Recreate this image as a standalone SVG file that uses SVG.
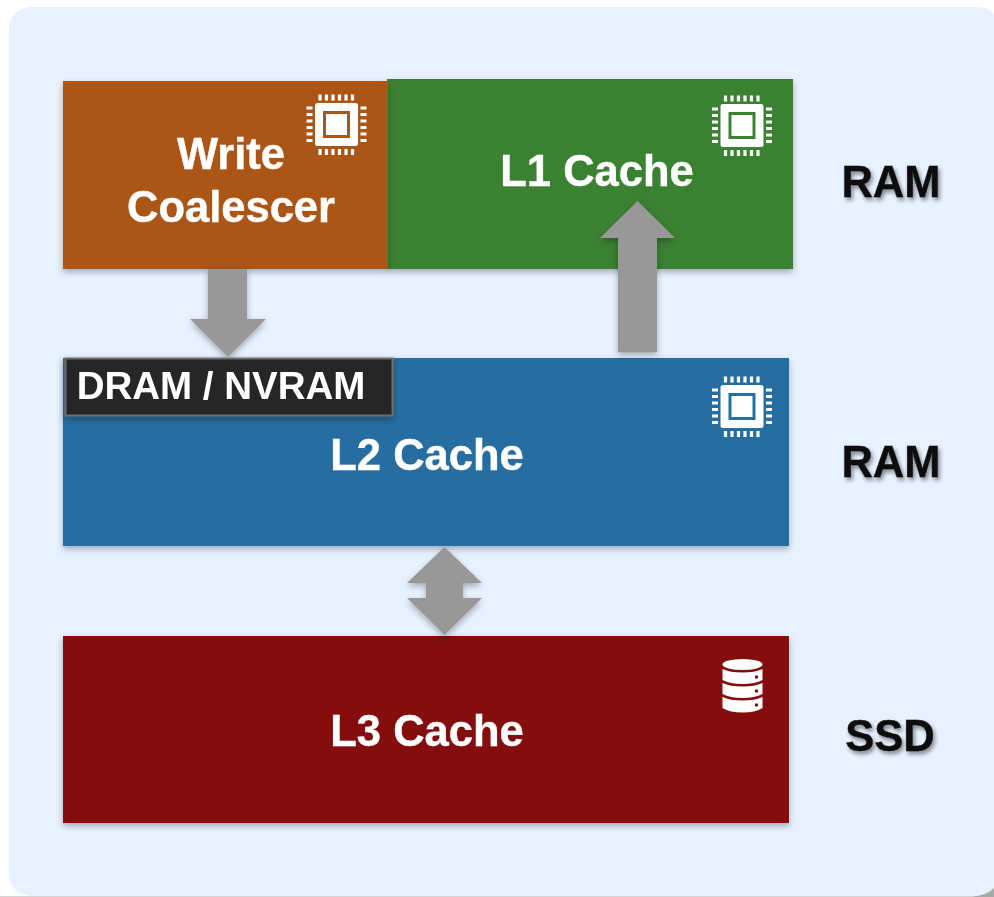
<svg xmlns="http://www.w3.org/2000/svg" width="994" height="897" viewBox="0 0 994 897">
<style>
text{font-family:"Liberation Sans",Arial,sans-serif;font-weight:700;text-anchor:middle}
.w{fill:#fff;stroke:#fff;stroke-width:.4px;font-size:43.500px;filter:url(#soft)}
.k{fill:#111;stroke:#111;stroke-width:.4px;font-size:43.500px;filter:url(#ts)}
.s{filter:url(#sh)}
.ar{fill:#989898;filter:url(#sh)}
</style>
<defs>
<filter id="soft" x="-10%" y="-20%" width="120%" height="140%"><feGaussianBlur stdDeviation=".55"/></filter>
<filter id="sh" x="-20%" y="-20%" width="140%" height="140%"><feDropShadow dx="0" dy="3" stdDeviation="3" flood-color="#000" flood-opacity=".3"/></filter>
<filter id="ts" x="-10%" y="-20%" width="120%" height="140%"><feGaussianBlur in="SourceAlpha" stdDeviation="2"/><feOffset dx="2" dy="3"/><feComponentTransfer result="o"><feFuncA type="linear" slope=".45"/></feComponentTransfer><feGaussianBlur in="SourceGraphic" stdDeviation=".6" result="b"/><feMerge><feMergeNode in="o"/><feMergeNode in="b"/></feMerge></filter>
<g id="chip" filter="url(#soft)">
<rect x="-21.500" y="-21.500" width="43" height="43" rx="2.500" fill="#fff"/>
<rect x="-12" y="-12" width="24" height="24" fill="none" stroke="var(--c)" stroke-width="3"/>
<path d="M-16.500-30v6M-10-30v6M-3.500-30v6M3-30v6M9.500-30v6M16-30v6M-16.500 24.500v6M-10 24.500v6M-3.500 24.500v6M3 24.500v6M9.500 24.500v6M16 24.500v6M-30-16.500h6M-30-10h6M-30-3.500h6M-30 3h6M-30 9.500h6M-30 16h6M24-16.500h6M24-10h6M24-3.500h6M24 3h6M24 9.500h6M24 16h6" stroke="#fff" stroke-width="3.200" fill="none"/>
</g>
</defs>
<rect width="994" height="897" fill="#fff"/>
<rect x="9" y="7" width="991" height="889" rx="22" fill="#e7f1ff"/>
<path d="M0 896.500H972Q986 896 994 888V897H0Z" fill="#a9a9a9"/>
<g id="l1-cache">
<rect class="s" x="387" y="79" width="406" height="190" fill="#3a8133"/>
<use href="#chip" x="742" y="125.500" style="--c:#3a8133"/>
<text class="w" x="597" y="186">L1 Cache</text>
</g>
<g id="write-coalescer">
<rect class="s" x="63" y="81" width="325" height="188" fill="#ab5413"/>
<use href="#chip" x="336.500" y="124.500" style="--c:#ab5413"/>
<text class="w" x="231" y="168.500">Write</text>
<text class="w" x="231" y="221.500">Coalescer</text>
</g>
<g id="l2-cache">
<rect class="s" x="63" y="358" width="726" height="188" fill="#266ea1"/>
<use href="#chip" x="742" y="406.500" style="--c:#266ea1"/>
<text class="w" x="427" y="469.500">L2 Cache</text>
</g>
<g id="l3-cache">
<rect class="s" x="63" y="636" width="726" height="187" fill="#840c10"/>
<g id="db-icon" fill="#fff" filter="url(#soft)">
<ellipse cx="742.500" cy="664.500" rx="20" ry="5.500"/>
<path d="M722.500 669Q730 672.500 742.500 672.500T762.500 669V680Q755 684 742.500 684T722.500 680Z"/>
<path d="M722.500 683Q730 686.500 742.500 686.500T762.500 683V694Q755 698 742.500 698T722.500 694Z"/>
<path d="M722.500 697Q730 700.500 742.500 700.500T762.500 697V708Q755 712.500 742.500 712.500T722.500 708Z"/>
<circle cx="756.500" cy="677" r="1.800" fill="#840c10"/>
<circle cx="756.500" cy="691" r="1.800" fill="#840c10"/>
<circle cx="756.500" cy="705" r="1.800" fill="#840c10"/>
</g>
<text class="w" x="427" y="745.500">L3 Cache</text>
</g>
<g id="connectors">
<path class="ar" d="M208 269H247V319H266L228 357L190 319H208Z"/>
<path class="ar" d="M618 352V238H600L637.500 201L675 238H657V352Z"/>
<path class="ar" d="M444.500 547L482 583H463V598H482L444.500 635L407 598H426V583H407Z"/>
</g>
<g id="dram-nvram">
<rect class="s" x="65.500" y="358.500" width="327" height="57" fill="#262626" stroke="#6e6e6e" stroke-width="2"/>
<text x="221" y="399" fill="#fff" style="font-size:38.500px" filter="url(#soft)">DRAM / NVRAM</text>
</g>
<g id="tier-labels">
<text class="k" x="891" y="196.500">RAM</text>
<text class="k" x="891" y="476.500">RAM</text>
<text class="k" x="890" y="750.500">SSD</text>
</g>
</svg>
